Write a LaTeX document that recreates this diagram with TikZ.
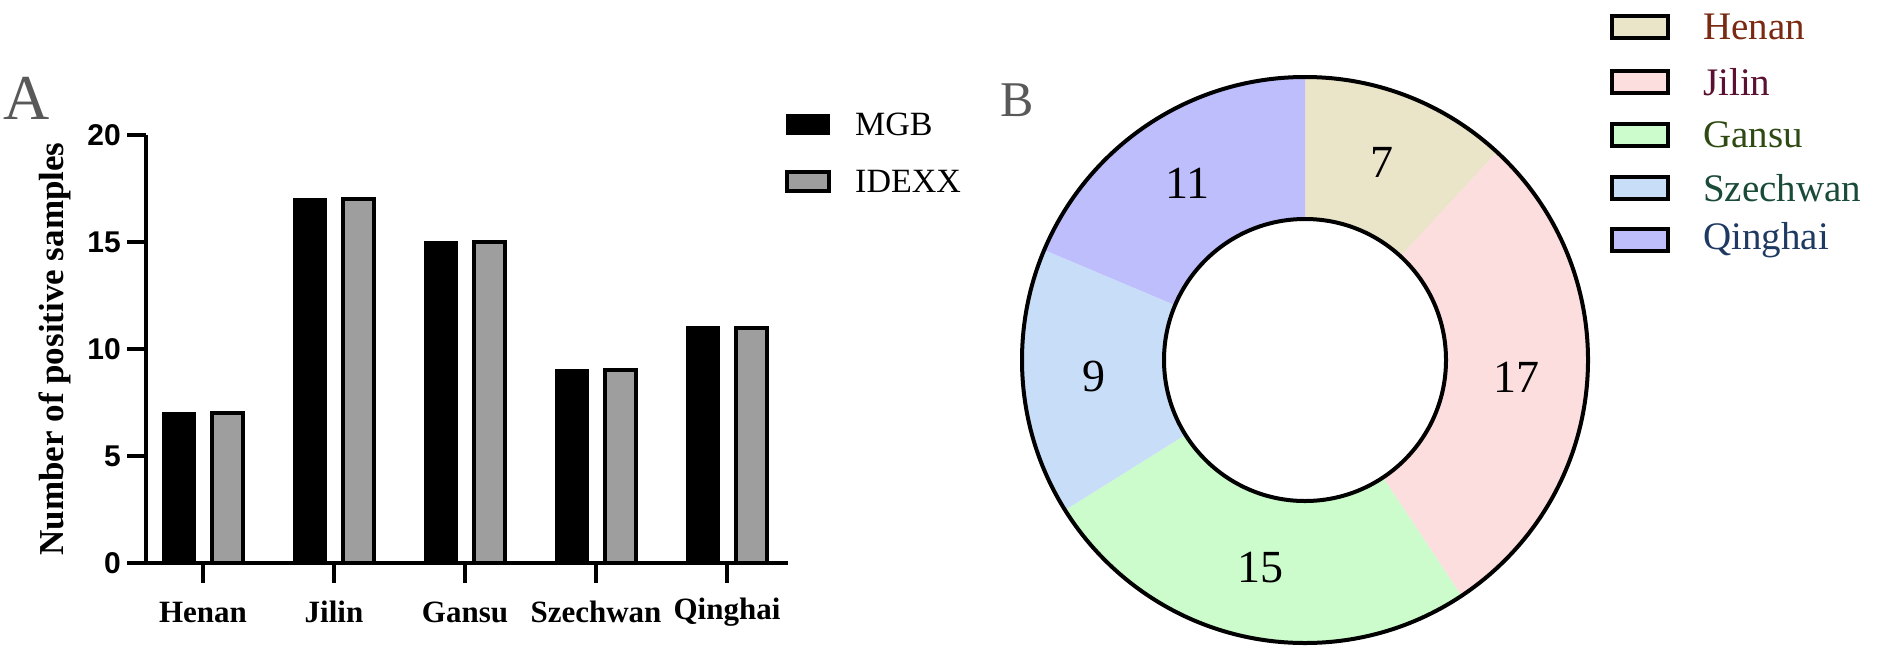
\documentclass[tikz,border=0pt]{standalone}
\usepackage{fontspec}
\usetikzlibrary{calc}
\setmainfont{Liberation Serif}
\newfontfamily\tickfont{Liberation Sans}
\begin{document}
\begin{tikzpicture}[x=1pt,y=-1pt,
  mgb/.style={fill=black,draw=black,line width=3pt},
  idx/.style={fill=black!38,draw=black,line width=4pt},
  axisline/.style={line width=4pt},
  ticklab/.style={font=\tickfont\bfseries\fontsize{30}{30}\selectfont,anchor=east,inner sep=0pt},
  catlab/.style={font=\bfseries\fontsize{31}{31}\selectfont,inner sep=0pt},
  pielab/.style={font=\fontsize{46}{46}\selectfont,inner sep=0pt},
  leglab/.style={font=\fontsize{39}{39}\selectfont,anchor=west,inner sep=0pt},
  legbox/.style={draw=black,line width=4pt}]
\useasboundingbox (0,0) rectangle (1902,651);
% panel letters
\node[text=black!65,font=\fontsize{64}{64}\selectfont,inner sep=0pt] (A) at (27,98) {A};
\node[text=black!65,font=\fontsize{50}{50}\selectfont,inner sep=0pt] (B) at (1017,100) {B};
% y label
\node[rotate=90,font=\bfseries\fontsize{35}{35}\selectfont,inner sep=0pt] (ylab) at (55,349) {Number of positive samples};
% bars
\def\unit{21.4}
\foreach \i/\v/\n in {0/7/Henan,1/17/Jilin,2/15/Gansu,3/9/Szechwan,4/11/Qinghai}{
  \pgfmathsetmacro\cx{203+131*\i}
  \pgfmathsetmacro\top{563-\unit*\v}
  \draw[mgb] (\cx-40,563) rectangle (\cx-9,\top);
  \draw[idx] (\cx+9,563) rectangle (\cx+40,\top);
  \draw[line width=3.5pt] (\cx,563) -- (\cx,583);
  \node[catlab] (c\i) at (\cx,612) {\n};
}
% axes
\draw[axisline] (146,135) -- (146,563) -- (788,563);
\foreach \t in {0,5,10,15,20}{
  \pgfmathsetmacro\ty{563-\unit*\t}
  \draw[line width=3.5pt] (127,\ty) -- (146,\ty);
  \node[ticklab] (t\t) at (121,\ty) {\t};
}
% bar legend
\draw[mgb,line width=2pt] (787,115) rectangle (829,134);
\draw[idx] (787,172) rectangle (829,191);
\node[leglab,font=\fontsize{34}{34}\selectfont] (lm) at (855,124) {MGB};
\node[leglab,font=\fontsize{34}{34}\selectfont] (li) at (855,181) {IDEXX};
% donut
\definecolor{cHe}{HTML}{EAE4C8}
\definecolor{cJi}{HTML}{FDDEDE}
\definecolor{cGa}{HTML}{CCFCCC}
\definecolor{cSz}{HTML}{C8DEF8}
\definecolor{cQi}{HTML}{BEBEFC}
\begin{scope}[shift={(1305,360)},y=1pt]
\def\R{283}\def\r{141}
\foreach \a/\b/\c/\v in {90/47.29/cHe/7, 47.29/-56.44/cJi/17, -56.44/-147.97/cGa/15, -147.97/-202.88/cSz/9, -202.88/-270/cQi/11}{
  \fill[\c] (\a:\R) arc[start angle=\a,end angle=\b,radius=\R] -- (\b:\r) arc[start angle=\b,end angle=\a,radius=\r] -- cycle;
  \pgfmathsetmacro\m{(\a+\b)/2}
  \node[pielab] (s\v) at (\m:212) {\v};
}
\draw[line width=4pt] (0,0) circle[radius=\R];
\draw[line width=4pt,fill=white] (0,0) circle[radius=\r];
\end{scope}
% pie legend
\foreach \y/\c/\n/\tc in {27/cHe/Henan/7A2A12,82/cJi/Jilin/5A1030,135/cGa/Gansu/2E4A12,188/cSz/Szechwan/1A4A38,240/cQi/Qinghai/1F3A62}{
  \definecolor{tcol}{HTML}{\tc}
  \draw[legbox,fill=\c] (1612,\y-11) rectangle (1668,\y+11);
  \node[leglab,text=tcol] (L\n) at (1703,\y) {\n};
}
\end{tikzpicture}
\end{document}
